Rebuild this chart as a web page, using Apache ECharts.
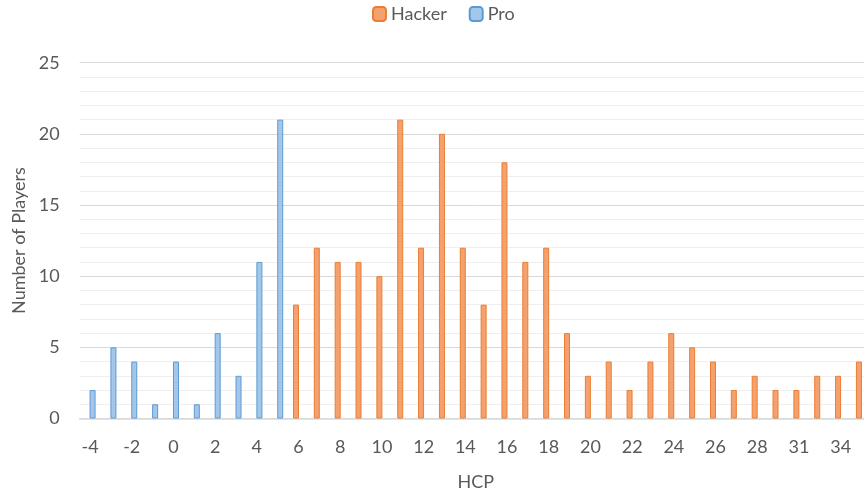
<!DOCTYPE html>
<html>
<head>
<meta charset="utf-8">
<script src="https://cdn.jsdelivr.net/npm/echarts@6/dist/echarts.min.js"></script>
<style>
html,body{margin:0;padding:0;background:#fff;}
#chart{width:864px;height:493px;}
</style>
</head>
<body>
<div id="chart"></div>
<script>
var categories = ['-4','-3','-2','-1','0','1','2','3','4','5','6','7','8','9','10','11','12','13','14','15','16','17','18','19','20','21','22','23','24','25','26','27','28','29','31','32','34','35'];
var hackerValues = [null,null,null,null,null,null,null,null,null,null,8,12,11,11,10,21,12,20,12,8,18,11,12,6,3,4,2,4,6,5,4,2,3,2,2,3,3,4];
var proValues = [2,5,4,1,4,1,6,3,11,21,null,null,null,null,null,null,null,null,null,null,null,null,null,null,null,null,null,null,null,null,null,null,null,null,null,null,null,null];
var yTicks = [0,5,10,15,20,25];

var FONT = 'Lato';
var TXT = '#595959';
var chart = echarts.init(document.getElementById('chart'));
chart.setOption({
  animation: false,
  textStyle: {fontFamily: FONT},
  legend: {
    top: 0,
    left: 367,
    itemWidth: 13,
    itemHeight: 14,
    itemGap: 22,
    textStyle: {color: TXT, fontSize: 18, fontFamily: FONT},
    data: ['Hacker','Pro']
  },
  grid: {left: 79.6, top: 62.7, width: 792.3, height: 355.8, containLabel: false, outerBoundsMode: 'none'},
  xAxis: {
    type: 'category',
    data: categories,
    name: 'HCP',
    nameLocation: 'middle',
    nameGap: 55,
    nameTextStyle: {color: TXT, fontSize: 18, fontFamily: FONT},
    axisTick: {show: false},
    axisLine: {lineStyle: {color: '#d9d9d9', width: 1.5}},
    axisLabel: {interval: 1, color: TXT, fontSize: 18, margin: 20, fontFamily: FONT}
  },
  yAxis: {
    type: 'value',
    min: yTicks[0],
    max: yTicks[yTicks.length-1],
    interval: 5,
    name: 'Number of Players',
    nameLocation: 'middle',
    nameGap: 51,
    nameTextStyle: {color: TXT, fontSize: 18, fontFamily: FONT},
    axisLine: {show: false},
    axisTick: {show: false},
    axisLabel: {color: TXT, fontSize: 18, margin: 20, fontFamily: FONT},
    splitLine: {lineStyle: {color: '#d9d9d9', width: 1}},
    minorTick: {show: false, splitNumber: 5},
    minorSplitLine: {show: true, lineStyle: {color: '#efefef', width: 1}}
  },
  series: [
    {
      name: 'Hacker', type: 'bar', data: hackerValues,
      barWidth: 6, barGap: '-15%',
      itemStyle: {color: '#F4A170', borderColor: '#ED7D31', borderWidth: 1}
    },
    {
      name: 'Pro', type: 'bar', data: proValues,
      barWidth: 6,
      itemStyle: {color: '#A4C6E8', borderColor: '#5B9BD5', borderWidth: 1}
    }
  ]
});
</script>
</body>
</html>
